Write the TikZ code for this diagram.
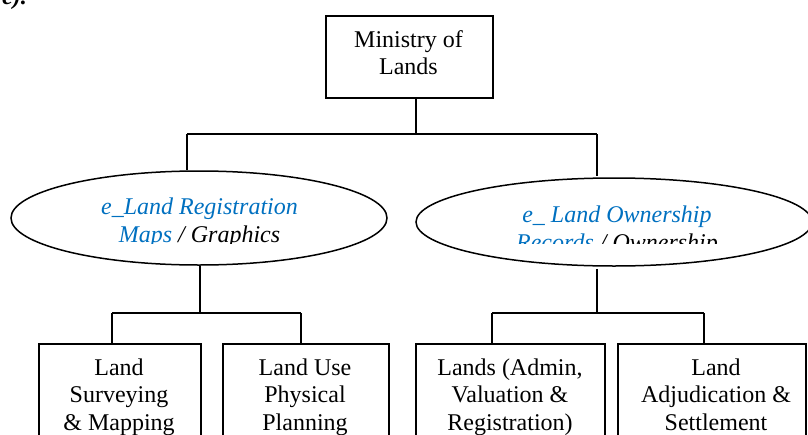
\documentclass[tikz,border=0pt]{standalone}
\usepackage{fontspec}
\setmainfont{Liberation Serif}
\usetikzlibrary{shapes.geometric}
\definecolor{linkblue}{HTML}{0070C0}
\tikzset{
  wire/.style={line width=1.5pt, black},
  unitbox/.style={draw, line width=1.5pt, rectangle, inner sep=0pt, anchor=north west},
  oval/.style={draw, line width=1.5pt, ellipse, inner sep=0pt},
  boxtext/.style={align=center, font=\fontsize{24}{27.6}\selectfont, inner sep=0pt, anchor=base},
  ovaltext/.style={align=center, font=\fontsize{24}{28}\selectfont\itshape, inner sep=0pt, anchor=base, text=linkblue},
}
\begin{document}
\begin{tikzpicture}[x=1pt,y=-1pt]
\useasboundingbox (0,0) rectangle (808,434);
\clip (0,0) rectangle (808,434);

% caption fragment from the text above
\node[font=\fontsize{24}{28}\selectfont\bfseries\itshape, inner sep=0pt, anchor=base east] (cap) at (27,4) {e).};

% head of the organisation (base anchor = baseline of the last line)
\node[unitbox, minimum width=167pt, minimum height=82pt] (m) at (325,15) {};
\node[boxtext] (mt) at (408.5,74.6) {Ministry of\\Lands};

% the two e-services
\node[oval, minimum width=376pt, minimum height=94pt] (e1) at (199,218) {};
\node[oval, minimum width=396pt, minimum height=88pt] (e2) at (614,222) {};
\begin{scope}
  \clip (0,0) rectangle (808,243.5);
  \node[ovaltext] (e1t) at (199.5,242) {e\_Land Registration\\Maps \textcolor{black}{/ Graphics}};
  \node[ovaltext] (e2t) at (617,250.5) {e\_ Land Ownership\\Records \textcolor{black}{/ Ownership}};
\end{scope}

% departments
\node[unitbox, minimum width=162pt, minimum height=130pt] (b1) at (38,343) {};
\node[unitbox, minimum width=166pt, minimum height=130pt] (b2) at (222,343) {};
\node[unitbox, minimum width=189pt, minimum height=130pt] (b3) at (415,343) {};
\node[unitbox, minimum width=188pt, minimum height=130pt] (b4) at (617,343) {};
\node[boxtext] (b1t) at (119,430.2) {Land\\Surveying\\\& Mapping};
\node[boxtext] (b2t) at (305,430.2) {Land Use\\Physical\\Planning};
\node[boxtext] (b3t) at (510,430.2) {Lands (Admin,\\Valuation \&\\Registration)};
\node[boxtext] (b4t) at (716,430.2) {Land\\Adjudication \&\\Settlement};

% junction points of the tree
\coordinate (j0) at (416,134);
\coordinate (jl) at (187,134);
\coordinate (jr) at (597,134);
\coordinate (k1) at (200,313);
\coordinate (k1l) at (112,313);
\coordinate (k1r) at (301,313);
\coordinate (k2) at (597,313);
\coordinate (k2l) at (492,313);
\coordinate (k2r) at (704,313);

% connectors
\draw[wire] (m.south -| j0) -- (j0);
\draw[wire] (jl) -- (jr);
\draw[wire] (jl) -- (jl |- e1.north);
\draw[wire] (jr) -- ([yshift=1pt]jr |- e2.north);
\draw[wire] (e1.south -| k1) -- (k1);
\draw[wire] (k1l) -- (k1r);
\draw[wire] (k1l) -- (k1l |- b1.north);
\draw[wire] (k1r) -- (k1r |- b2.north);
\draw[wire] ([yshift=-2pt]e2.south -| k2) -- (k2);
\draw[wire] (k2l) -- (k2r);
\draw[wire] (k2l) -- (k2l |- b3.north);
\draw[wire] (k2r) -- (k2r |- b4.north);
\end{tikzpicture}
\end{document}
